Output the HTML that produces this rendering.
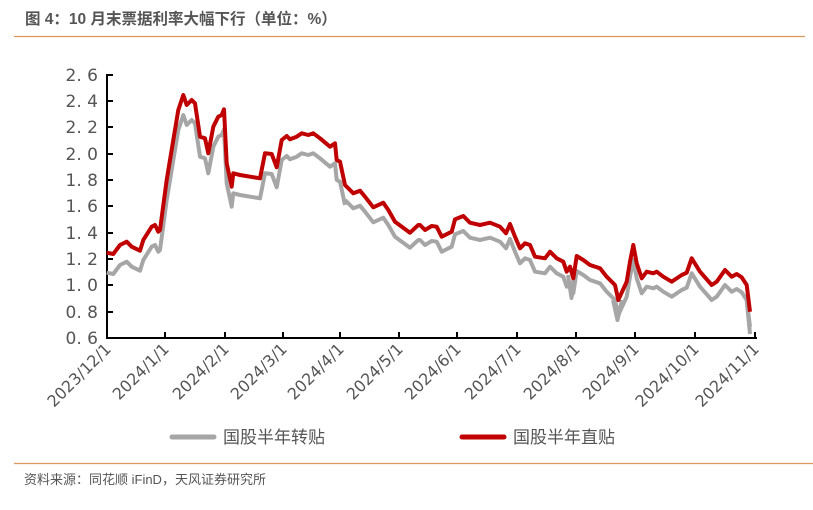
<!DOCTYPE html>
<html><head><meta charset="utf-8"><style>
body{margin:0;background:#fff;width:813px;height:510px;overflow:hidden;font-family:"Liberation Sans","Noto Sans CJK SC",sans-serif}
</style></head><body>
<svg width="813" height="510" xmlns="http://www.w3.org/2000/svg" style="position:absolute;left:0;top:0">
<text x="25" y="24" font-size="15.5" font-weight="bold" fill="#555" font-family="Liberation Sans,Noto Sans CJK SC,sans-serif">图 4：10 月末票据利率大幅下行（单位：%）</text>
<line x1="14" y1="36.5" x2="805" y2="36.5" stroke="#dc9a5a" stroke-width="1.3"/>
<g font-size="17" fill="#555" text-anchor="end" font-family="DejaVu Sans,sans-serif">
<text x="98" y="81">2. 6</text><text x="98" y="107">2. 4</text><text x="98" y="133">2. 2</text><text x="98" y="160">2. 0</text><text x="98" y="186">1. 8</text><text x="98" y="212">1. 6</text><text x="98" y="239">1. 4</text><text x="98" y="265">1. 2</text><text x="98" y="291">1. 0</text><text x="98" y="318">0. 8</text><text x="98" y="344">0. 6</text>
</g>
<g stroke="#000" stroke-width="2">
<line x1="107" y1="74" x2="107" y2="339"/><line x1="106" y1="338" x2="757" y2="338"/>
<line x1="107" y1="75" x2="113" y2="75"/><line x1="107" y1="101" x2="113" y2="101"/><line x1="107" y1="127" x2="113" y2="127"/><line x1="107" y1="154" x2="113" y2="154"/><line x1="107" y1="180" x2="113" y2="180"/><line x1="107" y1="206" x2="113" y2="206"/><line x1="107" y1="233" x2="113" y2="233"/><line x1="107" y1="259" x2="113" y2="259"/><line x1="107" y1="285" x2="113" y2="285"/><line x1="107" y1="312" x2="113" y2="312"/>
<line x1="165" y1="332" x2="165" y2="338"/><line x1="225" y1="332" x2="225" y2="338"/><line x1="283" y1="332" x2="283" y2="338"/><line x1="340" y1="332" x2="340" y2="338"/><line x1="399" y1="332" x2="399" y2="338"/><line x1="457" y1="332" x2="457" y2="338"/><line x1="517" y1="332" x2="517" y2="338"/><line x1="576" y1="332" x2="576" y2="338"/><line x1="635" y1="332" x2="635" y2="338"/><line x1="695" y1="332" x2="695" y2="338"/><line x1="755" y1="332" x2="755" y2="338"/>
</g>
<g fill="none" stroke="#a6a6a6" stroke-width="4" stroke-linejoin="round">
<polyline transform="translate(0,20)" points="106.7,252.7 113.3,254 120,245 126.7,241.7 131.7,246.7 140,250.7 143.3,240 151.7,226.7 155,225 158.3,231.7 160,230 166.7,180 173.3,140 178.3,110 183.3,95 186.7,105 191.7,100 195,103.3 200,136.7 205,138.3 208.3,153.3 213.3,126.7 218.3,116.7 221.7,115 224,109.3 226.7,163.3 231.7,186.7 233.3,173.3 240,175 260,178.3 265,153.3 271.7,154 276.7,167.3 281.7,140 286.7,136 290,139.3 296.7,136.7 301.7,133.3 308.3,135 313.3,133.3 320,138.3 330,146.7 335,143.3 336.7,160 340,161.7 345,185"/>
<polyline transform="translate(0,15)" points="345,185 353.3,193.3 360,190.7 365,196.7 373.3,207.3 383.3,202.7 388.3,210 395,221.7 410,232.7 418.3,225 420,225 425,230 431.7,226 436.7,226.7 441.7,236.7 451.7,231.7 455,219.3 463.3,216 470,222.7 480,225 490,222.7 500,226.7 506,233.3 510,224 515,236.7 520,248.3 525,243.3 530,245 535,256.7 545,258.3 550,251.7 556.7,258.3 563.3,261.7 566.7,271.7 570,266.7 573.3,278.3 576.7,256 583.3,260 590,265 600,268.3 606.7,276.7 615,285 618.3,300 626.7,281.7 630,261.7 633.3,245 636.7,263.3 641.7,278.3 646.7,271.7 653.3,273.3 656.7,271.7 663.3,276.7 671.7,281.7 681.7,275 686.7,272.7 691.7,258.3 700,271.7 711.7,285 716.7,281.7 725,270 731.7,276.7 736.7,274 741.7,277.3 746.7,285 750,311.7"/>
<polyline points="568,275 571.5,298 575,275"/>
<polyline points="613,300 617.5,320 622,300"/>
<polyline points="746.7,300 750,334"/>
</g>
<polyline fill="none" stroke="#c00000" stroke-width="4" stroke-linejoin="round" points="106.7,252.7 113.3,254 120,245 126.7,241.7 131.7,246.7 140,250.7 143.3,240 151.7,226.7 155,225 158.3,231.7 160,230 166.7,180 173.3,140 178.3,110 183.3,95 186.7,105 191.7,100 195,103.3 200,136.7 205,138.3 208.3,153.3 213.3,126.7 218.3,116.7 221.7,115 224,109.3 226.7,163.3 231.7,186.7 233.3,173.3 240,175 260,178.3 265,153.3 271.7,154 276.7,167.3 281.7,140 286.7,136 290,139.3 296.7,136.7 301.7,133.3 308.3,135 313.3,133.3 320,138.3 330,146.7 335,143.3 336.7,160 340,161.7 345,185 353.3,193.3 360,190.7 365,196.7 373.3,207.3 383.3,202.7 388.3,210 395,221.7 410,232.7 418.3,225 420,225 425,230 431.7,226 436.7,226.7 441.7,236.7 451.7,231.7 455,219.3 463.3,216 470,222.7 480,225 490,222.7 500,226.7 506,233.3 510,224 515,236.7 520,248.3 525,243.3 530,245 535,256.7 545,258.3 550,251.7 556.7,258.3 563.3,261.7 566.7,271.7 570,266.7 573.3,278.3 576.7,256 583.3,260 590,265 600,268.3 606.7,276.7 615,285 618.3,300 626.7,281.7 630,261.7 633.3,245 636.7,263.3 641.7,278.3 646.7,271.7 653.3,273.3 656.7,271.7 663.3,276.7 671.7,281.7 681.7,275 686.7,272.7 691.7,258.3 700,271.7 711.7,285 716.7,281.7 725,270 731.7,276.7 736.7,274 741.7,277.3 746.7,285 750,311.7"/>
<g font-size="16" fill="#555" text-anchor="end" font-family="DejaVu Sans,sans-serif">
<text transform="translate(112,350) rotate(-45)">2023/12/1</text>
<text transform="translate(170,350) rotate(-45)">2024/1/1</text>
<text transform="translate(230,350) rotate(-45)">2024/2/1</text>
<text transform="translate(288,350) rotate(-45)">2024/3/1</text>
<text transform="translate(345,350) rotate(-45)">2024/4/1</text>
<text transform="translate(404,350) rotate(-45)">2024/5/1</text>
<text transform="translate(462,350) rotate(-45)">2024/6/1</text>
<text transform="translate(522,350) rotate(-45)">2024/7/1</text>
<text transform="translate(581,350) rotate(-45)">2024/8/1</text>
<text transform="translate(640,350) rotate(-45)">2024/9/1</text>
<text transform="translate(700,350) rotate(-45)">2024/10/1</text>
<text transform="translate(760,350) rotate(-45)">2024/11/1</text>
</g>
<line x1="172" y1="437" x2="214" y2="437" stroke="#a6a6a6" stroke-width="5" stroke-linecap="round"/>
<line x1="462" y1="437" x2="504" y2="437" stroke="#c00000" stroke-width="5" stroke-linecap="round"/>
<g font-size="17" fill="#555" font-family="Noto Sans CJK SC,sans-serif">
<text x="223" y="443">国股半年转贴</text>
<text x="513" y="443">国股半年直贴</text>
</g>
<line x1="14" y1="463.5" x2="813" y2="463.5" stroke="#dc9a5a" stroke-width="1.3"/>
<text x="24" y="484" font-size="13" fill="#555" font-family="Liberation Sans,Noto Sans CJK SC,sans-serif">资料来源：同花顺 iFinD，天风证券研究所</text>
</svg>
</body></html>
